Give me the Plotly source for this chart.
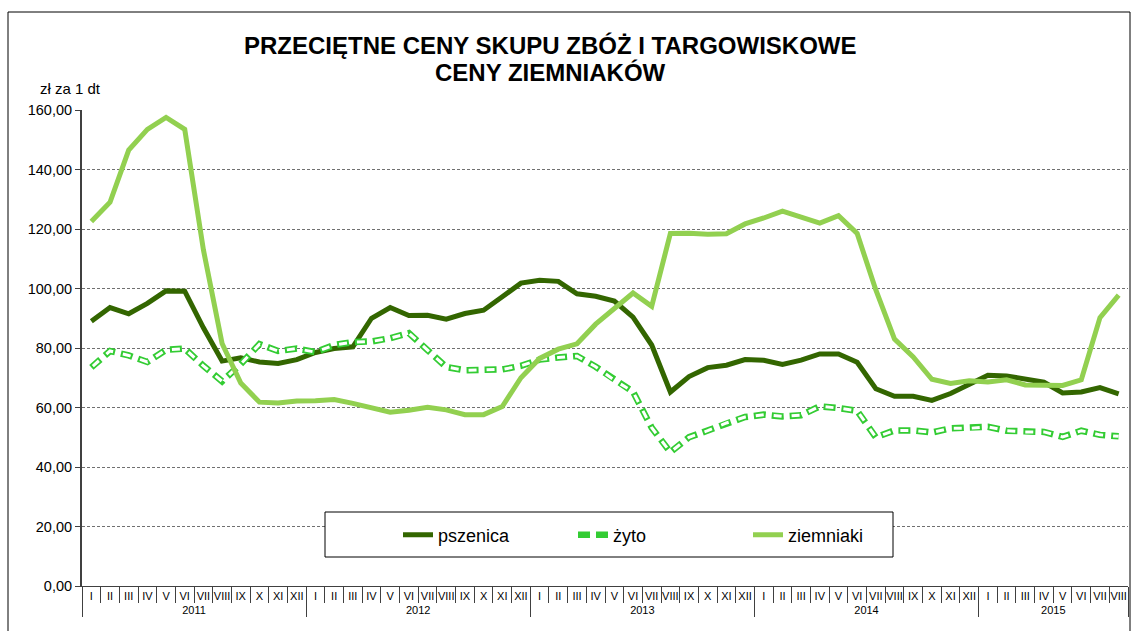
import plotly.graph_objects as go

years = ["2011", "2012", "2013", "2014", "2015"]
months_per_year = [12, 12, 12, 12, 8]
month_labels = ["I", "II", "III", "IV", "V", "VI", "VII", "VIII", "IX", "X", "XI", "XII"]

pszenica = [89.0, 93.6, 91.5, 95.0, 99.2, 99.1, 86.8, 75.6, 76.7, 75.3, 74.8, 76.1,
            78.5, 79.8, 80.4, 90.0, 93.6, 90.9, 91.0, 89.7, 91.6, 92.7, 97.2, 101.8,
            102.8, 102.4, 98.2, 97.4, 95.8, 90.4, 81.0, 65.2, 70.4, 73.4, 74.2, 76.1,
            75.9, 74.5, 75.9, 78.0, 78.0, 75.2, 66.3, 63.8, 63.8, 62.4, 64.7, 67.7,
            70.8, 70.6, 69.4, 68.5, 64.9, 65.2, 66.7, 64.6]
zyto = [73.5, 79.0, 77.5, 75.3, 79.4, 79.8, 74.0, 68.8, 74.6, 81.3, 79.0, 79.8,
        78.6, 81.0, 82.0, 82.2, 83.3, 85.0, 79.3, 73.6, 72.5, 72.6, 72.8, 74.0,
        76.1, 76.8, 77.3, 73.7, 69.2, 65.3, 53.2, 45.0, 50.0, 52.2, 54.8, 56.8,
        57.6, 57.0, 57.4, 60.4, 59.8, 58.9, 50.0, 52.3, 52.3, 51.6, 53.0, 53.0,
        53.5, 52.2, 51.8, 51.8, 50.1, 52.2, 50.8, 50.3]
ziemniaki = [122.5, 129.0, 146.5, 153.5, 157.5, 153.5, 113.0, 81.5, 68.2, 61.8, 61.5, 62.2,
             62.3, 62.7, 61.4, 60.1, 58.4, 59.1, 60.1, 59.2, 57.6, 57.6, 60.3, 70.0,
             76.5, 79.6, 81.4, 88.0, 93.3, 98.5, 94.0, 118.5, 118.6, 118.2, 118.4, 121.7,
             123.7, 126.0, 124.0, 122.0, 124.5, 118.5, 99.5, 83.0, 77.0, 69.5, 68.1, 69.0,
             68.6, 69.3, 67.6, 67.6, 67.4, 69.3, 90.2, 97.8]

x_years = []
x_months = []
for y, n in zip(years, months_per_year):
    x_years += [y] * n
    x_months += month_labels[:n]
x = [x_years, x_months]
n_pts = len(x_months)

FONT = "Liberation Sans, Arial, sans-serif"
DARK = "#336600"
ZYTO = "#33cc33"
LIGHT = "#92d050"

fig = go.Figure()
fig.add_trace(go.Scatter(x=x, y=pszenica, name="pszenica", mode="lines",
                         line=dict(color=DARK, width=5)))
fig.add_trace(go.Scatter(x=x, y=zyto, name="żyto", mode="lines",
                         line=dict(color=ZYTO, width=6.5, dash="12px,6px")))
fig.add_trace(go.Scatter(x=x, y=zyto, name="żyto_inner", mode="lines", showlegend=False,
                         hoverinfo="skip",
                         line=dict(color="white", width=3, dash="0px,2px,8px,8px")))
fig.add_trace(go.Scatter(x=x, y=ziemniaki, name="ziemniaki", mode="lines",
                         line=dict(color=LIGHT, width=5)))
# hidden helper trace carrying the month-boundary tick marks axis
fig.add_trace(go.Scatter(x=list(range(n_pts)), y=pszenica, xaxis="x2", mode="lines",
                         line=dict(width=0, color="rgba(0,0,0,0)"), showlegend=False,
                         hoverinfo="skip"))

L, R, T, B = 82, 5, 110, 45
W, H = 1133, 631
pw = W - L - R
ph = H - T - B

def px_x(p):
    return (p - L) / pw

def px_y(p):
    return (H - B - p) / ph

fig.update_layout(
    width=W, height=H,
    margin=dict(l=L, r=R, t=T, b=B, autoexpand=False),
    paper_bgcolor="white", plot_bgcolor="white",
    font=dict(family=FONT, color="black", size=12),
    separators=", ",
    showlegend=True,
    legend=dict(orientation="h", x=px_x(398), y=px_y(535), xanchor="left", yanchor="middle",
                font=dict(size=18, family=FONT), bgcolor="rgba(0,0,0,0)",
                borderwidth=0, entrywidth=130),
    xaxis=dict(type="multicategory", range=[-0.5, n_pts - 0.5],
               showline=True, linecolor="#404040", linewidth=1,
               ticks="", tickangle=0,
               tickfont=dict(size=11, family=FONT), showgrid=False,
               showdividers=True, dividercolor="#404040", dividerwidth=1,
               automargin=False, fixedrange=True),
    xaxis2=dict(overlaying="x", anchor="y", side="bottom", range=[-0.5, n_pts - 0.5],
                tick0=-0.5, dtick=1, ticks="outside", ticklen=16, tickcolor="#404040",
                tickwidth=1, showticklabels=False, showgrid=False, showline=False,
                zeroline=False, automargin=False, fixedrange=True),
    yaxis=dict(range=[0, 160], dtick=20, tickformat=".2f", showline=True,
               linecolor="#404040", linewidth=2, ticks="outside", ticklen=5,
               tickcolor="#404040", tickfont=dict(size=14.5, family=FONT),
               showgrid=True, gridcolor="#707070", gridwidth=1, griddash="3px,2px",
               zeroline=False, automargin=False, fixedrange=True),
    shapes=[
        dict(type="rect", xref="paper", yref="paper",
             x0=px_x(325), x1=px_x(893), y0=px_y(557), y1=px_y(512),
             line=dict(color="black", width=1), fillcolor="white", layer="above"),
        dict(type="rect", xref="paper", yref="paper",
             x0=px_x(8), x1=px_x(1130), y0=px_y(640), y1=px_y(12),
             line=dict(color="black", width=1), fillcolor="rgba(0,0,0,0)", layer="above"),
    ],
    annotations=[
        dict(text="<b>PRZECIĘTNE CENY SKUPU ZBÓŻ I TARGOWISKOWE</b>",
             xref="paper", yref="paper", x=px_x(550), y=px_y(45), xanchor="center",
             yanchor="middle", showarrow=False, font=dict(size=24, family=FONT)),
        dict(text="<b>CENY ZIEMNIAKÓW</b>",
             xref="paper", yref="paper", x=px_x(550), y=px_y(72), xanchor="center",
             yanchor="middle", showarrow=False, font=dict(size=24, family=FONT)),
        dict(text="zł za 1 dt", xref="paper", yref="paper", x=px_x(38), y=px_y(89),
             xanchor="left", yanchor="middle", showarrow=False,
             font=dict(size=15, family=FONT)),
    ],
)

fig.write_html("out.html", config={"displayModeBar": False},
               post_script="document.body.style.margin='0';")
